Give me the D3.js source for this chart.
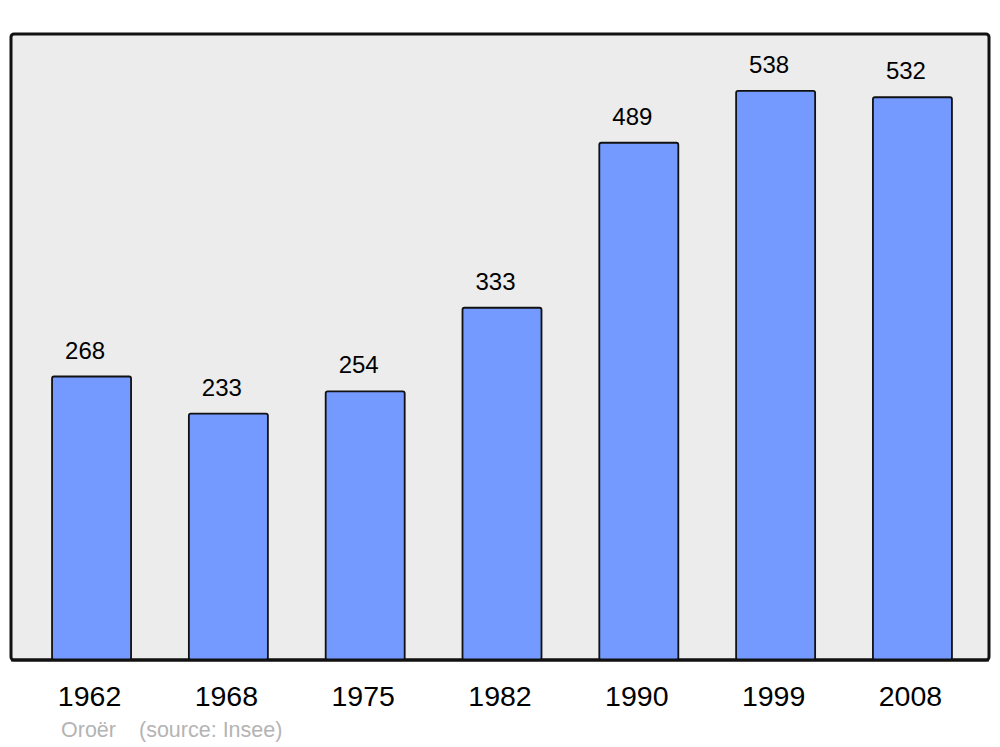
<!DOCTYPE html>
<html>
<head>
<meta charset="utf-8">
<script src="https://cdn.jsdelivr.net/npm/d3@7"></script>
<style>
  body { margin: 0; background: #fff; }
  svg { display: block; font-family: "Liberation Sans", Arial, sans-serif; }
</style>
</head>
<body>
<div id="chart"></div>
<script>
var years = ["1962", "1968", "1975", "1982", "1990", "1999", "2008"];
var population = [268, 233, 254, 333, 489, 538, 532];
var caption = ["Oroër", "(source: Insee)"];

var w = 1000, h = 747;
var panelLeft = 11, panelRight = 989, panelTop = 34, panelBottom = 660;

var svg = d3.select('#chart').append('svg')
  .attr('width', w)
  .attr('height', h);

// panel
svg.append('rect')
  .attr('x', panelLeft).attr('y', panelTop)
  .attr('width', panelRight - panelLeft).attr('height', panelBottom - panelTop)
  .attr('rx', 3).attr('ry', 3)
  .attr('fill', '#ececec')
  .attr('stroke', '#111')
  .attr('stroke-width', 3);

var x = d3.scaleBand()
  .domain(years)
  .range([panelLeft + 2, panelRight + 2])
  .paddingInner(0.4225)
  .paddingOuter(0.2855);

var y = d3.scaleLinear()
  .domain([0, d3.max(population) * 1.1])
  .range([panelBottom, panelTop]);

var data = years.map(function (d, i) { return {year: d, value: population[i]}; });

svg.selectAll('.bar')
  .data(data)
  .enter().append('rect')
  .attr('class', 'bar')
  .attr('x', d => x(d.year))
  .attr('y', d => y(d.value))
  .attr('width', x.bandwidth())
  .attr('height', d => panelBottom - y(d.value))
  .attr('rx', 2).attr('ry', 2)
  .attr('fill', '#7499ff')
  .attr('stroke', '#111')
  .attr('stroke-width', 1.8);

// redraw the baseline over the bar bottoms
svg.append('line')
  .attr('x1', panelLeft).attr('x2', panelRight)
  .attr('y1', panelBottom).attr('y2', panelBottom)
  .attr('stroke', '#111').attr('stroke-width', 3);

svg.selectAll('.val')
  .data(data)
  .enter().append('text')
  .attr('class', 'val')
  .attr('x', d => x(d.year) + x.bandwidth() / 2 - 6.5)
  .attr('y', d => y(d.value) - 18)
  .attr('text-anchor', 'middle')
  .style('font-size', '24px')
  .style('fill', '#000')
  .text(d => d.value);

var xAxis = svg.append('g')
  .attr('transform', 'translate(-2,' + panelBottom + ')')
  .call(d3.axisBottom(x).tickSize(0).tickPadding(0));
xAxis.select('.domain').remove();
xAxis.selectAll('text')
  .attr('y', 46)
  .attr('dy', null)
  .style('font-size', '28.5px')
  .style('font-family', '"Liberation Sans", Arial, sans-serif')
  .style('fill', '#000');

svg.append('text')
  .attr('x', 61).attr('y', 737)
  .style('font-size', '21.5px')
  .style('fill', '#b4b4b4')
  .text(caption[0]);
svg.append('text')
  .attr('x', 139).attr('y', 737)
  .style('font-size', '21.5px')
  .style('fill', '#b4b4b4')
  .text(caption[1]);
</script>
</body>
</html>
